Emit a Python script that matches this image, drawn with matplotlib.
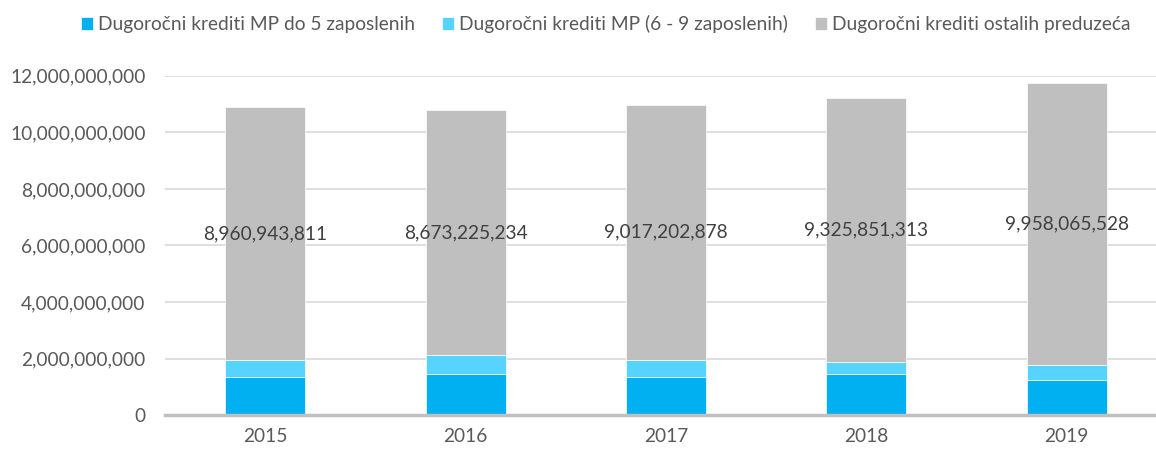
import matplotlib
matplotlib.use("Agg")
import matplotlib.pyplot as plt
from matplotlib.ticker import FuncFormatter
import numpy as np

years = ["2015", "2016", "2017", "2018", "2019"]
mp_do5 = [1357000000, 1442000000, 1357000000, 1467000000, 1248000000]
mp_6_9 = [582000000, 679000000, 607000000, 424000000, 521000000]
ostali = [8960943811, 8673225234, 9017202878, 9325851313, 9958065528]
series_names = ["Dugoročni krediti MP do 5 zaposlenih",
                "Dugoročni krediti MP (6 - 9 zaposlenih)",
                "Dugoročni krediti ostalih preduzeća"]
colors = ["#00B0F0", "#57D3FF", "#BFBFBF"]

plt.rcParams['font.family'] = ['Lato', 'DejaVu Sans']
txt = "#595959"
fs = 13.8

fig = plt.figure(figsize=(11.56, 4.5), dpi=100)
ax = fig.add_axes([165/1156, 0.0771, 1002/1156, 0.7547])

x = np.arange(len(years))
w = 0.40
a = np.array(mp_do5, float)
b = np.array(mp_6_9, float)
c = np.array(ostali, float)
ax.bar(x, a, w, color=colors[0], label=series_names[0], edgecolor="white", linewidth=0.5, zorder=3)
ax.bar(x, b, w, bottom=a, color=colors[1], label=series_names[1], edgecolor="white", linewidth=0.5, zorder=3)
ax.bar(x, c, w, bottom=a + b, color=colors[2], label=series_names[2], edgecolor="white", linewidth=0.5, zorder=3)

for xi, base, val in zip(x, a + b, c):
    ax.text(xi, base + val / 2, f"{int(val):,}", ha="center", va="center",
            fontsize=fs, color="#404040", zorder=4)

ax.set_xlim(-0.5, 4.5)
ax.set_ylim(0, 12e9)
ax.set_yticks(np.arange(0, 12.1e9, 2e9))
ax.yaxis.set_major_formatter(FuncFormatter(lambda v, p: f"{int(v):,}"))
ax.set_xticks(x)
ax.set_xticklabels(years)
ax.grid(axis="y", color="#D9D9D9", linewidth=1.2, zorder=0)
for s in ["top", "right", "left"]:
    ax.spines[s].set_visible(False)
ax.spines["bottom"].set_color("#BFBFBF")
ax.spines["bottom"].set_linewidth(2.5)
ax.spines["bottom"].set_zorder(5)
ax.tick_params(axis="both", length=0, labelsize=fs, colors=txt)
ax.tick_params(axis="x", pad=9)
ax.tick_params(axis="y", pad=14)

leg = fig.legend(loc="center", bbox_to_anchor=(0.524, 0.947), ncol=3, frameon=False,
                 fontsize=fs, handlelength=0.65, handleheight=0.65, handletextpad=0.25,
                 columnspacing=1.4)
for t in leg.get_texts():
    t.set_color(txt)

fig.savefig("out.png", dpi=100)
